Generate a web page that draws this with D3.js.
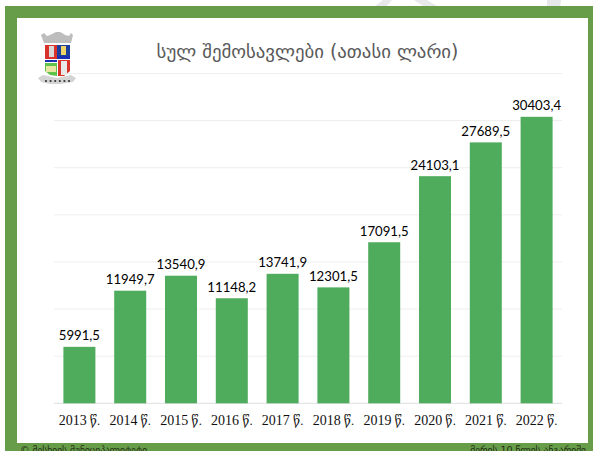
<!DOCTYPE html>
<html><head><meta charset="utf-8">
<script src="https://cdnjs.cloudflare.com/ajax/libs/d3/7.8.5/d3.min.js"></script>
<style>html,body{margin:0;padding:0;background:#fff}svg{display:block}</style></head>
<body><svg id="c" width="593" height="451"></svg>
<script>
const years = ["2013","2014","2015","2016","2017","2018","2019","2020","2021","2022"];
const yearSuffix = " წ.";
const values = [5991.5,11949.7,13540.9,11148.2,13741.9,12301.5,17091.5,24103.1,27689.5,30403.4];
const valueLabels = ["5991,5","11949,7","13540,9","11148,2","13741,9","12301,5","17091,5","24103,1","27689,5","30403,4"];
const gridValues = [0,5000,10000,15000,20000,25000,30000,35000];
const titleText = "სულ შემოსავლები (ათასი ლარი)";
const footLeft = "© მესხიის მუნიციპალიტეტი";
const footRight = "მერის 10 წლის ანგარიში";

const svg = d3.select("#c");
// watermark strokes behind the frame
svg.append("path").attr("d","M383,0 L392,0 L385,8 L373,8 Z").attr("fill","#e6e8ea");
svg.append("path").attr("d","M414,0 L427,0 L440,8 L426,8 Z").attr("fill","#e6e8ea");
svg.append("path").attr("d","M547,0 L561,0 L560,8 L547,8 Z").attr("fill","#e6e8ea");
// frame
svg.append("rect").attr("x",5).attr("y",6).attr("width",588).attr("height",445).attr("fill","#679c49");
svg.append("rect").attr("x",17).attr("y",18).attr("width",571).attr("height",425).attr("fill","#fff");

const y = d3.scaleLinear().domain([0,35000]).range([403.3,73.5]);
const x = d3.scaleBand().domain(years).range([54,562]).paddingInner(0.37).paddingOuter(0.185);

svg.append("g").selectAll("line").data(gridValues).join("line")
  .attr("x1",54).attr("x2",562).attr("y1",d=>y(d)).attr("y2",d=>y(d))
  .attr("stroke",d=>d===0?"#dedede":"#eeeeee").attr("stroke-width",1);

svg.append("g").selectAll("rect").data(values).join("rect")
  .attr("x",(d,i)=>x(years[i])).attr("width",x.bandwidth())
  .attr("y",d=>y(d)).attr("height",d=>y(0)-y(d)).attr("fill","#4fac5d");

svg.append("g").selectAll("text").data(valueLabels).join("text")
  .attr("x",(d,i)=>x(years[i])+x.bandwidth()/2).attr("y",(d,i)=>y(values[i])-6.5)
  .attr("text-anchor","middle").attr("font-family","Lato, Open Sans, sans-serif")
  .attr("font-size",13.2).attr("fill","#000").text(d=>d);

const yl = svg.append("g").selectAll("text").data(years).join("text")
  .attr("x",d=>x(d)+x.bandwidth()/2).attr("y",425)
  .attr("text-anchor","middle").attr("font-family","Liberation Serif, DejaVu Serif, serif")
  .attr("font-size",14).attr("fill","#111").text(d=>d);
yl.append("tspan").attr("font-size",12.5).text(yearSuffix);

svg.append("text").attr("x",307.5).attr("y",58).attr("text-anchor","middle")
  .attr("font-family","DejaVu Sans, sans-serif").attr("font-size",18.8).attr("fill","#595959").text(titleText);

svg.append("text").attr("x",20).attr("y",453).attr("font-family","DejaVu Sans, sans-serif")
  .attr("font-size",9.5).attr("fill","#1f2f14").text(footLeft);
svg.append("text").attr("x",586).attr("y",453).attr("text-anchor","end").attr("font-family","DejaVu Sans, sans-serif")
  .attr("font-size",9.5).attr("fill","#1f2f14").text(footRight);

// coat of arms emblem
const e = svg.append("g");
e.append("path").attr("d","M41,35 L44,33 L47,36 L50,35 L54,33 L56,32 L60,32 L62,33 L65,35 L69,36 L71,33 L73,35 L71,43 L44,43 Z").attr("fill","#bdbdbd");
e.append("rect").attr("x",44).attr("y",43).attr("width",27).attr("height",18).attr("fill","#fff");
e.append("rect").attr("x",45).attr("y",45).attr("width",12).attr("height",14).attr("fill","#d8322a");
e.append("rect").attr("x",57).attr("y",45).attr("width",13).attr("height",11).attr("fill","#1c3f9c");
e.append("rect").attr("x",49).attr("y",46).attr("width",5).attr("height",11).attr("fill","#d8d8d8");
e.append("rect").attr("x",61).attr("y",46).attr("width",5).attr("height",9).attr("fill","#f0d468");
e.append("rect").attr("x",45).attr("y",60).attr("width",12).attr("height",2).attr("fill","#1c2fb0");
e.append("rect").attr("x",57).attr("y",56).attr("width",13).attr("height",3).attr("fill","#1c2fb0");
e.append("path").attr("d","M45,63 L57,63 L57,76 L50,75 L45,71 Z").attr("fill","#5fc24a");
e.append("rect").attr("x",46).attr("y",66).attr("width",10).attr("height",6).attr("fill","#e8e6a0");
e.append("path").attr("d","M58,60 L70,60 L70,71 L64,76 L58,76 Z").attr("fill","#d8322a");
e.append("rect").attr("x",61).attr("y",61).attr("width",6).attr("height",14).attr("fill","#e8e8e8");
e.append("path").attr("d","M38,78 L43,75 L57,78 L71,75 L76,78 L73,82 L60,84 L50,84 L41,82 Z").attr("fill","#d4d4d4");
e.append("g").selectAll("circle").data(d3.range(6)).join("circle")
  .attr("cx",d=>46+d*4.6).attr("cy",81).attr("r",1.1).attr("fill","#333");
</script></body></html>
